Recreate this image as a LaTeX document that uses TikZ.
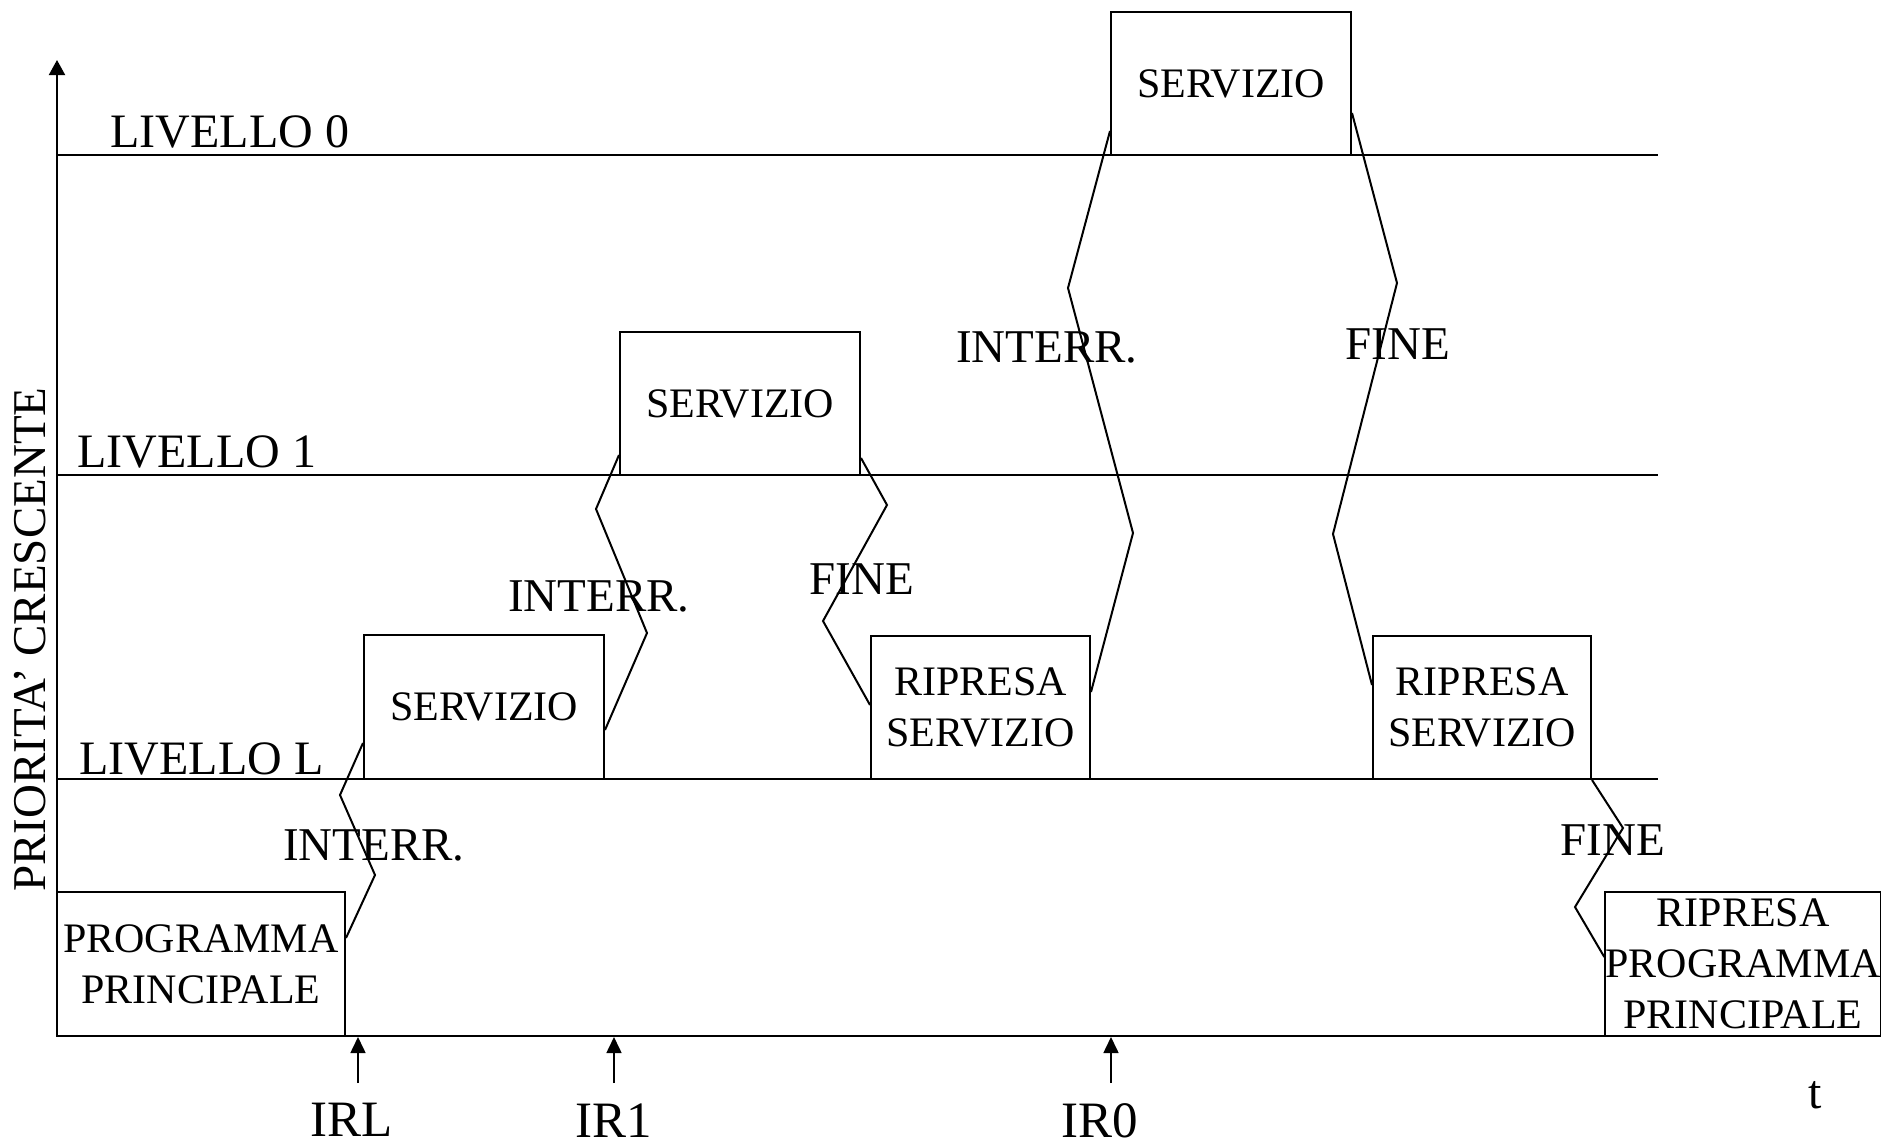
\documentclass[tikz,border=0pt]{standalone}
\usepackage{fontspec}
\setmainfont{Liberation Serif}
\usetikzlibrary{arrows.meta}

\tikzset{
  box/.style={draw, line width=1pt, inner sep=0pt, align=center,
              font=\fontsize{21}{25.5}\selectfont},
  link/.style={line width=1pt, line join=miter},
  level/.style={line width=1pt},
  lbl/.style={inner sep=0pt, anchor=base, font=\fontsize{23.5}{28}\selectfont},
  lvl/.style={inner sep=0pt, anchor=base west, font=\fontsize{24}{28}\selectfont},
  req/.style={inner sep=0pt, anchor=base, font=\fontsize{25.5}{30}\selectfont},
  sig/.style={line width=0.8pt, -{Triangle[length=8pt,width=7.5pt]}},
}

\begin{document}
\begin{tikzpicture}[x=0.5pt,y=-0.5pt]
\useasboundingbox (0,0) rectangle (1881,1146);

% axes
\draw[line width=1pt, -{Triangle[length=7.5pt,width=8pt]}] (57,1036) -- (57,60);
\draw[line width=1pt] (57,1036) -- (1881,1036);

% priority levels
\draw[level] (57,155) -- (1658,155);
\draw[level] (57,475) -- (1658,475);
\draw[level] (57,779) -- (1658,779);

\node[lvl] (lv0) at (110,147) {LIVELLO 0};
\node[lvl] (lv1) at (77,467) {LIVELLO 1};
\node[lvl] (lvL) at (79,774) {LIVELLO L};

\node[inner sep=0pt, anchor=base, rotate=90, font=\fontsize{23.5}{28}\selectfont]
  (ylab) at (46,639.5) {PRIORITA’ CRESCENTE};
\node[inner sep=0pt, anchor=base, font=\fontsize{24}{28}\selectfont] (tlab) at (1815,1108) {t};

% execution blocks
\node[box, minimum width=144pt, minimum height=72pt]   (A) at (201,964)    {PROGRAMMA\\PRINCIPALE};
\node[box, minimum width=120pt, minimum height=72pt]   (B) at (484,707)    {SERVIZIO};
\node[box, minimum width=120pt, minimum height=71.5pt] (C) at (740,403.5)  {SERVIZIO};
\node[box, minimum width=109.5pt, minimum height=71.5pt] (D) at (980.5,707.5) {RIPRESA\\SERVIZIO};
\node[box, minimum width=120pt, minimum height=71.5pt] (E) at (1231,83.5)  {SERVIZIO};
\node[box, minimum width=109pt, minimum height=71.5pt] (F) at (1482,707.5) {RIPRESA\\SERVIZIO};
\node[box, minimum width=136pt, minimum height=72pt]   (G) at (1743,964)   {RIPRESA\\PROGRAMMA\\PRINCIPALE};

% transitions between blocks
\draw[link] (A.east |- 0,938) -- (375,875) -- (340,795) -- (B.west |- 0,743);
\draw[link] (B.east |- 0,730) -- (647,633) -- (596,509) -- (C.west |- 0,455);
\draw[link] (C.east |- 0,458) -- (887,505) -- (823,621) -- (D.west |- 0,705);
\draw[link] (D.east |- 0,692) -- (1133,533) -- (1068,288) -- (E.west |- 0,131);
\draw[link] (E.east |- 0,113) -- (1397,283) -- (1333,534) -- (F.west |- 0,685);
\draw[link] (F.south east) -- (1623,828) -- (1575,907) -- (G.west |- 0,957);

\node[lbl] (i1) at (374,860) {INTERR.};
\node[lbl] (i2) at (599,611) {INTERR.};
\node[lbl] (f3) at (862,594) {FINE};
\node[lbl] (i4) at (1047,362) {INTERR.};
\node[lbl] (f5) at (1398,359) {FINE};
\node[lbl] (f6) at (1613,855) {FINE};

% interrupt requests
\node[req] (irl) at (351.5,1136) {IRL};
\node[req] (ir1) at (614,1137) {IR1};
\node[req] (ir0) at (1100,1137) {IR0};

\coordinate (irlTail) at (358,1083);
\coordinate (irlTip)  at (358,1037);
\coordinate (ir1Tail) at (614,1083);
\coordinate (ir1Tip)  at (614,1037);
\coordinate (ir0Tail) at (1111,1083);
\coordinate (ir0Tip)  at (1111,1037);
\draw[sig] (irlTail) -- (irlTip);
\draw[sig] (ir1Tail) -- (ir1Tip);
\draw[sig] (ir0Tail) -- (ir0Tip);
\end{tikzpicture}
\end{document}
